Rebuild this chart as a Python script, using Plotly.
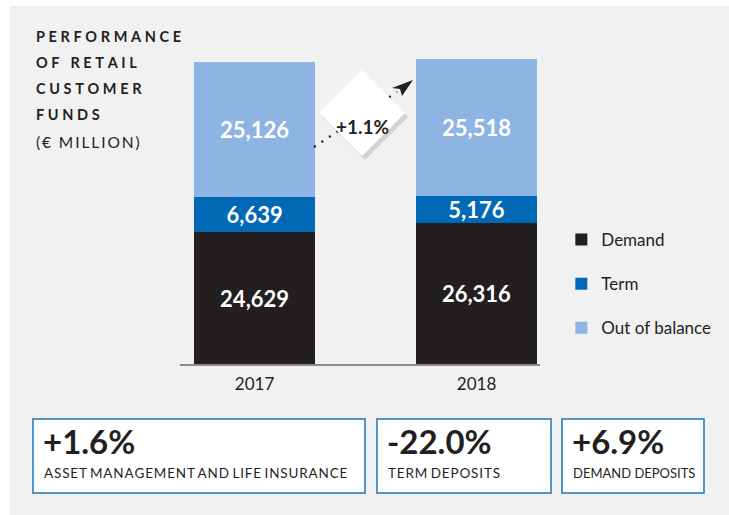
import plotly.graph_objects as go

# ---- data ----
years = ["2017", "2018"]
demand = [24629, 26316]
term = [6639, 5176]
out_of_balance = [25126, 25518]
totals = [56934, 57011]
change_label = "+1.1%"
kpi_values = ["+1.6%", "-22.0%", "+6.9%"]
kpi_labels = ["ASSET MANAGEMENT AND LIFE INSURANCE", "TERM DEPOSITS", "DEMAND DEPOSITS"]
title_lines = ["PERFORMANCE", "OF RETAIL", "CUSTOMER", "FUNDS"]
unit_label = "(€ MILLION)"

# ---- style ----
W, H = 729, 515
L, R, T, B = 180, 189, 59, 151
PW, PH = W - L - R, H - T - B
C_DEM, C_TERM, C_OUT = "#231f20", "#0068b5", "#8eb4e3"
C_TXT = "#231f20"
C_BOX = "#1b75bc"
FONT = "Lato"


def px(x):
    return (x - L) / PW


def py(y):
    return (H - B - y) / PH


def spaced(s, sep="\u2009", wsep=" "):
    return wsep.join(sep.join(w) for w in s.split(" "))


def fmt(v):
    return f"{v:,}"


fig = go.Figure()
for name, vals, col in [("Demand", demand, C_DEM), ("Term", term, C_TERM),
                        ("Out of balance", out_of_balance, C_OUT)]:
    fig.add_trace(go.Bar(
        x=years, y=vals, name=name, marker=dict(color=col, line=dict(width=0)),
        text=[fmt(v) for v in vals], textposition="inside", insidetextanchor="middle",
        textfont=dict(family=FONT, size=22, color="white", weight="bold"),
        legendgroup=name, hoverinfo="skip",
    ))

ann = []
for yr, tot in zip(years, totals):
    ann.append(dict(x=yr, y=tot, xref="x", yref="y", text=fmt(tot), showarrow=False,
                    yanchor="middle", yshift=17,
                    font=dict(family=FONT, size=23, color=C_TXT, weight="bold")))

# title block
title_y = [36, 63, 88, 114]
for line, yy in zip(title_lines, title_y):
    ann.append(dict(x=px(34), y=py(yy), xref="paper", yref="paper", xanchor="left",
                    yanchor="middle", showarrow=False,
                    text=spaced(line, "\u2005", "\u2002\u2005"),
                    font=dict(family=FONT, size=14.5, color=C_TXT, weight="bold")))
ann.append(dict(x=px(34), y=py(142), xref="paper", yref="paper", xanchor="left",
                yanchor="middle", showarrow=False, text=spaced(unit_label, "\u2009", "\u2002"),
                font=dict(family=FONT, size=15.5, color=C_TXT)))

shapes = []
# white margins of the page
shapes.append(dict(type="rect", xref="paper", yref="paper", x0=px(0), x1=px(10),
                   y0=py(H), y1=py(0), fillcolor="white", line=dict(width=0), layer="above"))
shapes.append(dict(type="rect", xref="paper", yref="paper", x0=px(0), x1=px(W),
                   y0=py(6), y1=py(0), fillcolor="white", line=dict(width=0), layer="above"))

# dotted growth line + diamond + arrowhead
shapes.append(dict(type="line", xref="paper", yref="paper", x0=px(314), y0=py(147),
                   x1=px(397), y1=py(92), line=dict(color=C_TXT, width=2.5, dash="2px,7px")))
dcx, dcy, dr = 362, 113, 43


def diamond(cx, cy, r):
    return (f"M {px(cx)},{py(cy - r)} L {px(cx + r)},{py(cy)} "
            f"L {px(cx)},{py(cy + r)} L {px(cx - r)},{py(cy)} Z")


shapes.append(dict(type="path", xref="paper", yref="paper", path=diamond(dcx + 3, dcy + 4, dr),
                   fillcolor="rgba(0,0,0,0.12)", line=dict(width=0)))
shapes.append(dict(type="path", xref="paper", yref="paper", path=diamond(dcx, dcy, dr),
                   fillcolor="white", line=dict(width=0)))
arrow = (f"M {px(413)},{py(80)} L {px(392)},{py(88)} L {px(400)},{py(89)} "
         f"L {px(402)},{py(96)} Z")
shapes.append(dict(type="path", xref="paper", yref="paper", path=arrow,
                   fillcolor=C_TXT, line=dict(width=0)))
ann.append(dict(x=px(dcx), y=py(dcy), xref="paper", yref="paper", showarrow=False,
                text=change_label, font=dict(family=FONT, size=19, color=C_TXT, weight="bold")))

# KPI boxes
boxes = [(33, 365), (377, 551), (562, 704)]
label_seps = ["\u200a", "\u200a", ""]
label_sizes = [13.5, 13.5, 13]
for (x0, x1), v, lab, sep, ls in zip(boxes, kpi_values, kpi_labels, label_seps, label_sizes):
    shapes.append(dict(type="rect", xref="paper", yref="paper", x0=px(x0), x1=px(x1),
                       y0=py(493), y1=py(419), fillcolor="white",
                       line=dict(color=C_BOX, width=1.5), layer="above"))
    ann.append(dict(x=px(x0 + 8), y=py(441), xref="paper", yref="paper", xanchor="left",
                    yanchor="middle", showarrow=False, text=v,
                    font=dict(family=FONT, size=33, color=C_TXT, weight="bold")))
    ann.append(dict(x=px(x0 + 9), y=py(473), xref="paper", yref="paper", xanchor="left",
                    yanchor="middle", showarrow=False, text=spaced(lab, sep) if sep else lab,
                    font=dict(family=FONT, size=ls, color=C_TXT)))

fig.update_layout(
    width=W, height=H, margin=dict(l=L, r=R, t=T, b=B, pad=0),
    paper_bgcolor="#f1f1f1", plot_bgcolor="#f1f1f1",
    barmode="stack", bargap=0.455, showlegend=True,
    uniformtext=dict(minsize=22, mode="show"),
    xaxis=dict(type="category", range=[-0.336, 1.286], showline=True, linecolor="#8a8a8a",
               linewidth=1.5, ticks="", showgrid=False, zeroline=False, ticklabelstandoff=4,
               tickfont=dict(family=FONT, size=17, color=C_TXT)),
    yaxis=dict(range=[0, max(totals)], visible=False, showgrid=False, zeroline=False),
    legend=dict(xref="container", yref="container", x=0.77, y=1 - 222 / H,
                xanchor="left", yanchor="top", traceorder="grouped",
                font=dict(family=FONT, size=17, color=C_TXT), tracegroupgap=19,
                itemwidth=30, bgcolor="rgba(0,0,0,0)"),
    annotations=ann, shapes=shapes,
)

fig.write_html("out.html", config={"displayModeBar": False},
               post_script="document.body.style.margin='0px';")
